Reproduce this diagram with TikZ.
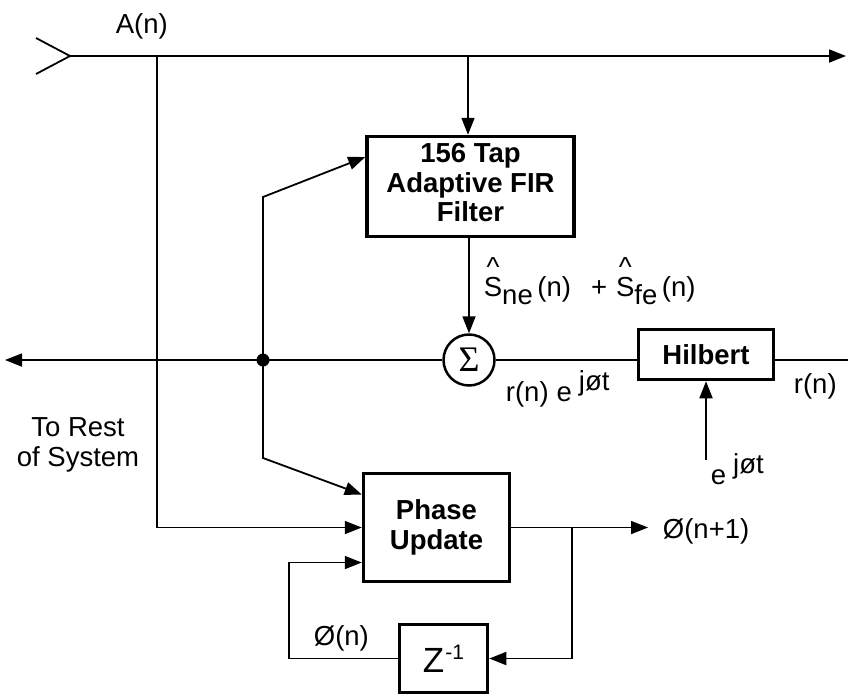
\documentclass[tikz,border=0pt]{standalone}
\usepackage{fontspec}
\setmainfont{Liberation Sans}
\newfontfamily\sigfont{Liberation Serif}
\usetikzlibrary{arrows.meta}
\newcommand{\hatS}{\makebox[0pt][l]{\hspace{0.1em}\raisebox{0.72em}{\textasciicircum}}S}
\newcommand{\supjot}{\hspace{7pt}\raisebox{0.4em}{jøt}}
\begin{document}
\begin{tikzpicture}[x=1pt,y=-1pt,
  font=\fontsize{27.5}{30}\selectfont,
  line width=1.8pt,
  >={Triangle[length=17pt,width=13pt]},
  blk/.style={draw, line width=3.5pt, inner sep=0pt, font=\bfseries\fontsize{27.5}{29.5}\selectfont, align=center},
  lbl/.style={inner sep=0pt, anchor=base west}]
\useasboundingbox (0,0) rectangle (848,697);

% blocks
\node[blk, minimum width=207pt, minimum height=100pt] (fir) at (470.5,186.5) {156 Tap\\Adaptive FIR\\Filter\rule[-8pt]{0pt}{8pt}};
\node[blk, minimum width=146pt, minimum height=108pt] (pu) at (436.5,527.5) {Phase\\Update};
\node[blk, minimum width=135pt, minimum height=50pt] (hil) at (706,354.5) {Hilbert};
\node[blk, minimum width=88pt, minimum height=68pt, font=\fontsize{35}{35}\selectfont] (zinv) at (443.5,658.5) {Z\hspace{1pt}\raisebox{13pt}{\fontsize{21}{21}\selectfont -1}};
\node[draw, circle, line width=2.5pt, minimum size=51pt, inner sep=0pt, font=\sigfont\fontsize{36}{36}\selectfont] (sig) at (469,360) {Σ};

% coordinates
\coordinate (in) at (70,56);
\coordinate (out) at (846,56);
\coordinate (ta) at (157,56);
\coordinate (tb) at (468,56);
\coordinate (lo) at (5,360);
\coordinate (dt) at (263,360);
\coordinate (d1) at (263,197);
\coordinate (d2) at (263,458);
\coordinate (fb) at (289,658.5);
\coordinate (br) at (572,527.5);
\coordinate (phout) at (648,527.5);
\coordinate (rend) at (848,360);
\coordinate (ej) at (706,460);

% input chevron and top line
\draw (36,38) -- (in) -- (36,74);
\draw[->] (in) -- (out);
\node[lbl] (an) at (115,33) {A(n)};
\draw[->] (tb) -- (tb |- fir.north);
\draw[->] (ta) |- (pu.west);

% filter to sum
\draw[->] (fir.south -| sig) -- (sig.north);
\node[lbl] (slab) at (483,296) {\hatS\raisebox{-8pt}{ne}\,(n)\hspace{20pt}+\hspace{9pt}\hatS\raisebox{-8pt}{fe}\,(n)};

% sum output left
\draw[->] (sig.west) -- (lo);
\fill (dt) circle (6.5pt);
\draw[->] (dt) -- (d1) -- ([yshift=29.5pt]fir.west);
\draw[->] (dt) -- (d2) -- ([yshift=33pt]pu.west);
\node[align=center, inner sep=0pt] (rest) at (78,445) {To Rest\\of System};

% sum to Hilbert
\draw (sig.east) -- (sig.east -| hil.west);
\draw (sig.east -| hil.east) -- (rend);
\draw[->] (ej) -- (hil.south);
\node[lbl] (rn1) at (505,401) {r(n)\hspace{8pt}e\supjot};
\node[lbl] (rn2) at (793,393) {r(n)};
\node[lbl] (ejl) at (710,484) {e\supjot};

% phase update loop
\draw[->] (pu.east) -- (pu.east -| phout);
\node[lbl] (phn1) at (662,538) {Ø(n+1)};
\draw[->] (br) |- (zinv.east);
\draw[->] (zinv.west) -- (fb) |- ([yshift=-35pt]pu.west);
\node[lbl] (phn) at (313,645) {Ø(n)};
\end{tikzpicture}
\end{document}
